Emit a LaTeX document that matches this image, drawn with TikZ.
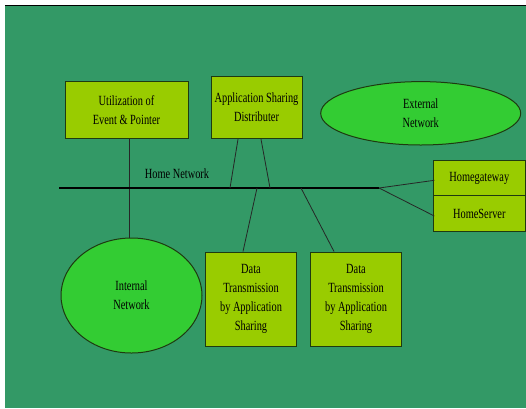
\documentclass[tikz,border=0pt]{standalone}
\usepackage{fontspec}
\setmainfont{Liberation Serif}[FakeStretch=0.74]
\usetikzlibrary{shapes.geometric}
\definecolor{bggreen}{HTML}{339966}
\definecolor{boxgreen}{HTML}{99CC00}
\definecolor{ellgreen}{HTML}{33CC33}
\definecolor{edge}{HTML}{1E3A10}
\tikzset{
  lbl/.style={font=\fontsize{14}{19}\selectfont, align=center, text=black},
  box/.style={lbl, draw=edge, line width=1pt, fill=boxgreen, rectangle, inner sep=0pt},
  oval/.style={lbl, draw=edge, line width=1pt, fill=ellgreen, ellipse, inner sep=0pt},
  conn/.style={draw=black!85, line width=0.8pt},
}
\begin{document}
\begin{tikzpicture}[x=1pt,y=-1pt]
\useasboundingbox (0,0) rectangle (526,408);
\fill[white] (0,0) rectangle (526,408);
\fill[bggreen] (5,6) rectangle (526,408);
\draw[black, line width=1pt] (5,5.5) -- (526,5.5);

% nodes
\node[box, minimum width=123pt, minimum height=56.5pt] (util) at (126.5,110.2) {Utilization of\\Event \& Pointer};
\node[box, minimum width=91pt, minimum height=62pt] (asd) at (256.5,107.7) {Application Sharing\\Distributer};
\node[oval, minimum width=200pt, minimum height=63.4pt] (ext) at (420.7,113.3) {External\\Network};
\node[box, minimum width=92pt, minimum height=35.7pt] (hg) at (479.3,178) {Homegateway};
\node[box, minimum width=92pt, minimum height=35.3pt] (hs) at (479.3,213.5) {HomeServer};
\node[oval, minimum width=141pt, minimum height=115pt] (int) at (131.5,295.5) {Internal\\Network};
\node[box, minimum width=90.5pt, minimum height=94pt] (dt1) at (251,299) {Data\\Transmission\\by Application\\Sharing};
\node[box, minimum width=90.5pt, minimum height=94pt] (dt2) at (356,299) {Data\\Transmission\\by Application\\Sharing};

% home network bus
\coordinate (hnL) at (59,188);
\coordinate (hnR) at (379,188);
\coordinate (a1) at (230,188);
\coordinate (a2) at (270,188);
\coordinate (b1) at (257,188);
\coordinate (b2) at (301,188);
\node[lbl, inner sep=0pt] (hnlabel) at (177,174) {Home Network};

\draw[conn] ([xshift=2.5pt]util.south) -- ([xshift=-2.5pt]int.north);
\draw[black, line width=2pt] (hnL) -- (hnR);
\draw[conn] ([xshift=-18.5pt]asd.south) -- (a1);
\draw[conn] ([xshift=4.5pt]asd.south) -- (a2);
\draw[conn] (b1) -- ([xshift=-8pt]dt1.north);
\draw[conn] (b2) -- ([xshift=-22pt]dt2.north);
\draw[conn] (hnR) -- ([xshift=1.5pt,yshift=-2.3pt]hg.west);
\draw[conn] (hnR) -- ([xshift=1.5pt,yshift=-2.5pt]hs.west);
\end{tikzpicture}
\end{document}
